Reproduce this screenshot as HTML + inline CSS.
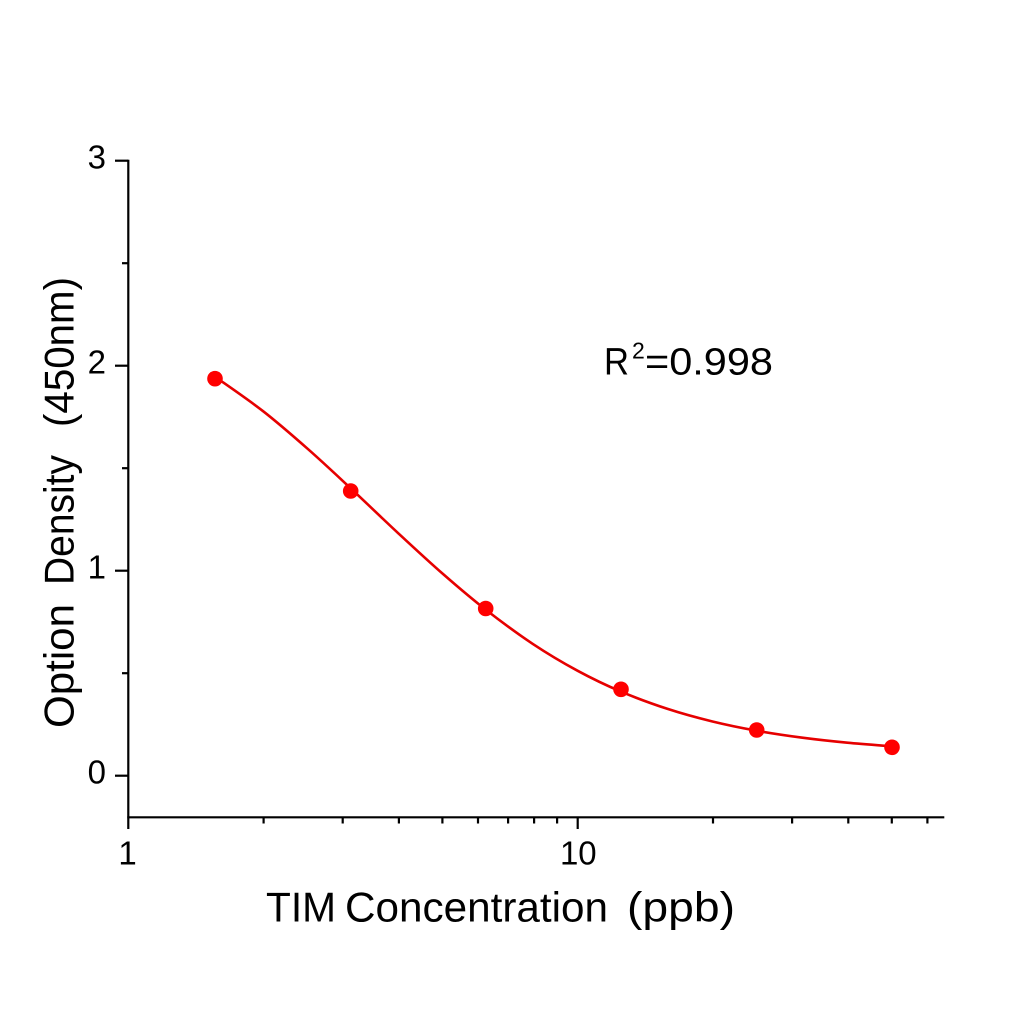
<!DOCTYPE html>
<html>
<head>
<meta charset="utf-8">
<style>
  html, body { margin: 0; padding: 0; background: #ffffff; }
  svg { display: block; }
  text { font-family: "Liberation Sans", "Noto Sans CJK SC", sans-serif; fill: #000; }
</style>
</head>
<body>
<svg width="1024" height="1024" viewBox="0 0 1024 1024" xmlns="http://www.w3.org/2000/svg">
  <rect width="1024" height="1024" fill="#ffffff"/>

  <!-- Axes -->
  <g stroke="#000" stroke-width="2.2" fill="none" stroke-linecap="butt">
    <line x1="128.3" y1="159.7" x2="128.3" y2="829"/>
    <line x1="127.3" y1="817.3" x2="944.3" y2="817.3"/>
    <!-- Y major ticks -->
    <line x1="115" y1="160.7" x2="128.3" y2="160.7"/>
    <line x1="115" y1="365.7" x2="128.3" y2="365.7"/>
    <line x1="115" y1="570.7" x2="128.3" y2="570.7"/>
    <line x1="115" y1="775.7" x2="128.3" y2="775.7"/>
    <!-- Y minor ticks -->
    <line x1="122" y1="263.2" x2="128.3" y2="263.2"/>
    <line x1="122" y1="468.2" x2="128.3" y2="468.2"/>
    <line x1="122" y1="673.2" x2="128.3" y2="673.2"/>
    <!-- X major ticks -->
    <line x1="577.7" y1="817.3" x2="577.7" y2="829"/>
    <!-- X minor ticks -->
    <line x1="263.6" y1="817.3" x2="263.6" y2="823.5"/>
    <line x1="342.7" y1="817.3" x2="342.7" y2="823.5"/>
    <line x1="398.9" y1="817.3" x2="398.9" y2="823.5"/>
    <line x1="442.4" y1="817.3" x2="442.4" y2="823.5"/>
    <line x1="478.0" y1="817.3" x2="478.0" y2="823.5"/>
    <line x1="508.1" y1="817.3" x2="508.1" y2="823.5"/>
    <line x1="534.1" y1="817.3" x2="534.1" y2="823.5"/>
    <line x1="557.1" y1="817.3" x2="557.1" y2="823.5"/>
    <line x1="713.0" y1="817.3" x2="713.0" y2="823.5"/>
    <line x1="792.1" y1="817.3" x2="792.1" y2="823.5"/>
    <line x1="848.3" y1="817.3" x2="848.3" y2="823.5"/>
    <line x1="891.8" y1="817.3" x2="891.8" y2="823.5"/>
    <line x1="927.4" y1="817.3" x2="927.4" y2="823.5"/>
  </g>

  <!-- Y tick labels -->
  <g font-size="33" text-anchor="end">
    <text x="106" y="168.3">3</text>
    <text x="106" y="373.3">2</text>
    <text x="106" y="578.3">1</text>
    <text x="106" y="783.3">0</text>
  </g>

  <!-- X tick labels -->
  <g font-size="33" text-anchor="middle">
    <text x="127.5" y="864.3">1</text>
    <text x="578.3" y="864.3">10</text>
  </g>

  <!-- X axis title -->
  <g font-size="42">
    <text x="266" y="921.7" textLength="70" lengthAdjust="spacingAndGlyphs">TIM</text>
    <text x="345" y="921.7" textLength="263" lengthAdjust="spacingAndGlyphs">Concentration</text>
    <text x="627" y="921.7" textLength="108" lengthAdjust="spacingAndGlyphs">(ppb)</text>
  </g>

  <!-- Y axis title -->
  <g font-size="42">
    <text transform="translate(73.5,728) rotate(-90)" textLength="124" lengthAdjust="spacingAndGlyphs">Option</text>
    <text transform="translate(73.5,585) rotate(-90)" textLength="130" lengthAdjust="spacingAndGlyphs">Density</text>
    <text transform="translate(73.5,427) rotate(-90)" textLength="150" lengthAdjust="spacingAndGlyphs">(450nm)</text>
  </g>

  <!-- R^2 annotation -->
  <text x="604" y="374.3" font-size="38" textLength="25" lengthAdjust="spacingAndGlyphs">R</text>
  <text x="632" y="358.3" font-size="23">2</text>
  <text x="645" y="374.3" font-size="38" textLength="128" lengthAdjust="spacingAndGlyphs">=0.998</text>

  <!-- Fitted curve (smooth Catmull-Rom through 4PL samples) -->
  <path fill="none" stroke="#e60000" stroke-width="2.6" stroke-linejoin="round" stroke-linecap="round"
    d="M215.4,377
       C223.35,382.7 247.65,399.17 263.1,411.2
       C278.55,423.23 293.5,436.35 308.1,449.2
       C322.7,462.05 335.73,474.35 350.7,488.3
       C365.67,502.25 382.53,518.63 397.9,532.9
       C413.27,547.17 428.22,561.07 442.9,573.9
       C457.58,586.73 471.02,598.23 486.0,609.9
       C500.98,621.57 517.52,633.75 532.8,643.9
       C548.08,654.05 562.97,662.83 577.7,670.8
       C592.43,678.77 606.22,685.35 621.2,691.7
       C636.18,698.05 652.38,703.93 667.6,708.9
       C682.82,713.87 697.68,717.87 712.5,721.5
       C727.32,725.13 741.52,728.0 756.5,730.7
       C771.48,733.4 787.27,735.7 802.4,737.7
       C817.53,739.7 832.4,741.27 847.3,742.7
       C862.2,744.13 884.38,745.7 891.8,746.3"/>

  <!-- Data markers -->
  <g fill="#ff0000">
    <circle cx="215" cy="378.7" r="7.8"/>
    <circle cx="350.7" cy="491" r="7.8"/>
    <circle cx="485.7" cy="608.5" r="7.8"/>
    <circle cx="621" cy="689.3" r="7.8"/>
    <circle cx="756.7" cy="730" r="7.8"/>
    <circle cx="892" cy="747.3" r="7.8"/>
  </g>
</svg>
</body>
</html>
